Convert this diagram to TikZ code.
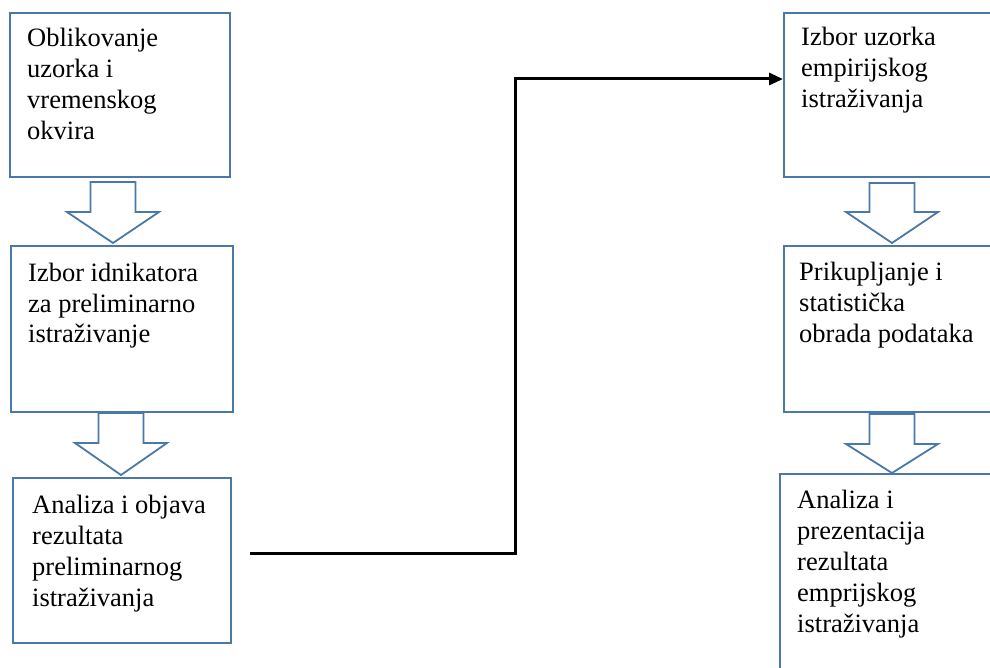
\documentclass[tikz,border=0pt]{standalone}
\usepackage{fontspec}
\setmainfont{Liberation Serif}
\usetikzlibrary{arrows.meta}
\definecolor{boxblue}{RGB}{74,120,168}
\newcommand\blockarrow[4]{%
  \draw[blk] (#1-22.5,#2) -- (#1+22.5,#2) -- (#1+22.5,#3) -- (#1+46,#3) -- (#1,#4)
    -- (#1-46,#3) -- (#1-22.5,#3) -- cycle;}
\begin{document}
\begin{tikzpicture}[x=1pt,y=-1pt,
  box/.style={draw=boxblue, line width=2pt, rectangle, inner sep=0pt, anchor=north west},
  txt/.style={anchor=base west, inner sep=0pt, font=\fontsize{26.5}{31}\selectfont},
  blk/.style={draw=boxblue, line width=1.8pt, fill=white, line join=miter},
  conn/.style={line width=3pt, -{Triangle[length=14pt,width=12pt]}}]
\useasboundingbox (0,0) rectangle (990,668);
\clip (0,0) rectangle (990,668);
% boxes
\node[box, minimum width=220pt, minimum height=164pt] (b1) at (9,12) {};
\node[box, minimum width=222pt, minimum height=166pt] (b2) at (10,245) {};
\node[box, minimum width=218pt, minimum height=165pt] (b3) at (12,477) {};
\node[box, minimum width=240pt, minimum height=164pt] (b4) at (783,12) {};
\node[box, minimum width=240pt, minimum height=166pt] (b5) at (783,245) {};
\node[box, minimum width=245pt, minimum height=230pt] (b6) at (779,473) {};
% texts
\node[txt] (t1) at (27,47) {\begin{tabular}[t]{@{}l@{}}Oblikovanje\\uzorka i\\vremenskog\\okvira\end{tabular}};
\node[txt] (t2) at (28,281) {\begin{tabular}[t]{@{}l@{}}Izbor idnikatora\\za preliminarno\\istraživanje\end{tabular}};
\node[txt] (t3) at (32,513) {\begin{tabular}[t]{@{}l@{}}Analiza i objava\\rezultata\\preliminarnog\\istraživanja\end{tabular}};
\node[txt] (t4) at (801,46) {\begin{tabular}[t]{@{}l@{}}Izbor uzorka\\empirijskog\\istraživanja\end{tabular}};
\node[txt] (t5) at (799,280) {\begin{tabular}[t]{@{}l@{}}Prikupljanje i\\statistička\\obrada podataka\end{tabular}};
\node[txt] (t6) at (797,508) {\begin{tabular}[t]{@{}l@{}}Analiza i\\prezentacija\\rezultata\\emprijskog\\istraživanja\end{tabular}};
% block arrows
\blockarrow{113}{182}{212}{243}
\blockarrow{121}{413}{443}{475}
\blockarrow{892}{183}{212}{243}
\blockarrow{892}{414}{444}{473}
% connector
\coordinate (c0) at (250,553);
\coordinate (c1) at (515,79);
\draw[conn] (c0) -| (c1) -- (c1 -| b4.west);
\end{tikzpicture}
\end{document}
